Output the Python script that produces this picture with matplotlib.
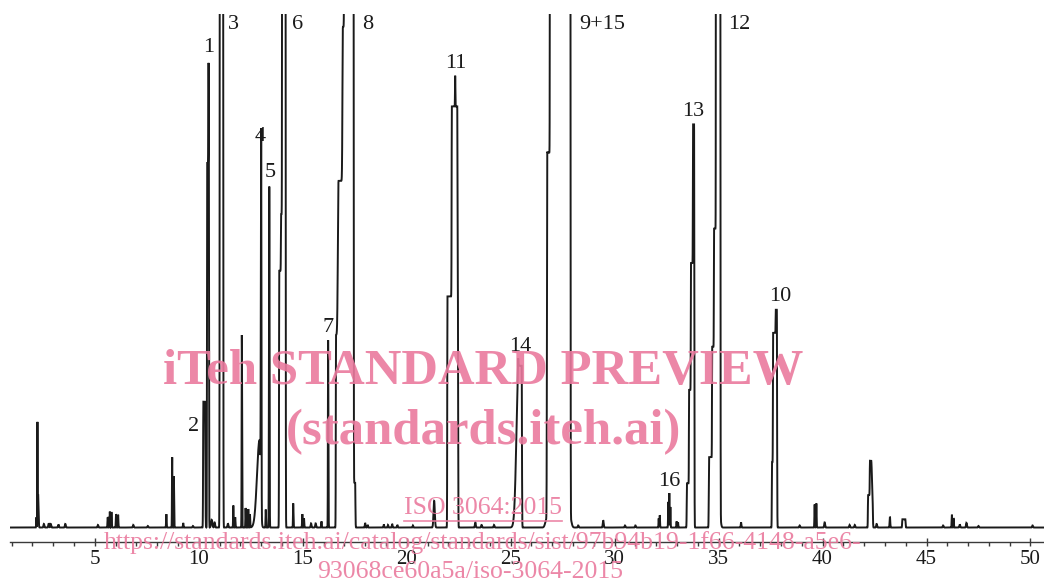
import numpy as np
import matplotlib
matplotlib.use("Agg")
import matplotlib.pyplot as plt
from matplotlib.lines import Line2D

# ---------------- data ----------------
# x axis (retention time, min)
x_major_ticks = [5, 10, 15, 20, 25, 30, 35, 40, 45, 50]
x_minor_ticks = list(range(1, 51))

# Peak tables: (apex start, apex end, height [% full scale], sigma left, sigma right), times in min
peaks_early = [
    (2.19, 2.19, 2.0, 0.010, 0.010),
    (2.24, 2.24, 20.6, 0.007, 0.007),
    (2.27, 2.27, 6.5, 0.005, 0.020),
    (2.55, 2.55, 0.7, 0.020, 0.020),
    (2.78, 2.78, 0.8, 0.020, 0.020),
    (2.88, 2.88, 0.7, 0.020, 0.020),
    (3.25, 3.25, 0.6, 0.020, 0.020),
    (3.58, 3.58, 0.7, 0.020, 0.020),
    (5.15, 5.15, 0.5, 0.020, 0.020),
    (5.62, 5.62, 2.0, 0.012, 0.012),
    (5.72, 5.72, 3.1, 0.012, 0.012),
    (5.80, 5.80, 3.0, 0.012, 0.012),
    (6.02, 6.02, 2.6, 0.012, 0.012),
    (6.12, 6.12, 2.5, 0.012, 0.012),
    (6.85, 6.85, 0.5, 0.020, 0.020),
    (7.55, 7.55, 0.3, 0.020, 0.020),
    (8.44, 8.44, 2.6, 0.012, 0.012),
    (8.72, 8.72, 13.7, 0.010, 0.010),
    (8.80, 8.80, 10.0, 0.010, 0.012),
    (9.25, 9.25, 0.9, 0.012, 0.012),
    (9.72, 9.72, 0.3, 0.020, 0.020),
]

peaks_mid = [
    (10.22, 10.30, 24.5, 0.012, 0.015),   # 2
    (10.40, 10.48, 71.0, 0.008, 0.010),   # 1
    (10.47, 10.47, 19.5, 0.008, 0.010),
    (10.62, 10.62, 1.5, 0.030, 0.030),
    (10.76, 10.76, 1.0, 0.020, 0.020),
    (11.02, 11.16, 200.0, 0.012, 0.012),  # 3
    (11.40, 11.40, 0.8, 0.020, 0.020),
    (11.66, 11.66, 4.3, 0.010, 0.012),
    (11.75, 11.75, 2.0, 0.010, 0.012),
    (12.07, 12.07, 37.5, 0.010, 0.012),
    (12.25, 12.25, 3.8, 0.010, 0.012),
    (12.38, 12.38, 3.6, 0.010, 0.012),
    (12.46, 12.46, 2.6, 0.010, 0.012),
    (12.92, 12.92, 17.0, 0.120, 0.050),
    (13.00, 13.00, 73.0, 0.015, 0.012),   # 4
    (13.22, 13.22, 3.5, 0.010, 0.012),
    (13.39, 13.39, 66.4, 0.014, 0.012),   # 5
    (13.87, 14.16, 50.0, 0.010, 0.012),   # 6
    (13.96, 14.16, 11.0, 0.010, 0.012),
    (14.02, 14.16, 200.0, 0.010, 0.012),
    (14.54, 14.54, 4.7, 0.010, 0.014),
    (14.98, 14.98, 2.6, 0.012, 0.012),
    (15.06, 15.06, 1.8, 0.012, 0.012),
    (15.40, 15.40, 0.8, 0.020, 0.020),
    (15.62, 15.62, 0.8, 0.020, 0.020),
    (15.90, 15.90, 1.2, 0.012, 0.012),
    (16.22, 16.22, 36.5, 0.010, 0.012),   # 7
    (16.60, 17.43, 37.5, 0.010, 0.012),   # 8
    (16.72, 17.43, 30.0, 0.030, 0.012),
    (16.93, 17.43, 30.0, 0.020, 0.012),
    (17.02, 17.43, 200.0, 0.015, 0.012),
    (17.43, 17.52, 8.7, 0.010, 0.012),
]

peaks_late = [
    (18.00, 18.00, 0.9, 0.015, 0.015),
    (18.12, 18.12, 0.5, 0.015, 0.015),
    (18.90, 18.90, 0.6, 0.015, 0.015),
    (19.10, 19.10, 0.5, 0.015, 0.015),
    (19.30, 19.30, 0.7, 0.015, 0.015),
    (19.55, 19.55, 0.5, 0.015, 0.015),
    (20.30, 20.30, 0.4, 0.015, 0.015),
    (21.32, 21.32, 5.2, 0.030, 0.030),
    (21.96, 22.46, 45.0, 0.010, 0.012),   # 11
    (22.17, 22.43, 37.0, 0.010, 0.012),
    (22.33, 22.33, 6.0, 0.008, 0.008),
    (23.30, 23.30, 1.0, 0.020, 0.020),
    (23.60, 23.60, 0.5, 0.020, 0.020),
    (24.20, 24.20, 0.5, 0.020, 0.020),
    (25.38, 25.53, 31.5, 0.100, 0.012),   # 14
    (25.36, 25.36, 2.0, 0.008, 0.008),
    (26.72, 26.72, 1.5, 0.060, 0.020),
    (26.76, 27.86, 73.0, 0.015, 0.012),   # 9+15
    (26.90, 27.86, 200.0, 0.010, 0.012),
    (27.86, 27.86, 2.0, 0.010, 0.060),
    (28.25, 28.25, 0.4, 0.020, 0.020),
    (29.45, 29.45, 1.4, 0.020, 0.020),
    (30.50, 30.50, 0.4, 0.020, 0.020),
    (31.00, 31.00, 0.4, 0.020, 0.020),
]

peaks_tail = [
    (32.12, 32.12, 1.8, 0.010, 0.010),
    (32.17, 32.17, 2.4, 0.010, 0.010),
    (32.58, 32.58, 5.0, 0.010, 0.010),    # 16
    (32.63, 32.63, 6.7, 0.010, 0.010),
    (32.68, 32.68, 4.0, 0.010, 0.010),
    (32.98, 32.98, 1.2, 0.010, 0.010),
    (33.05, 33.05, 1.0, 0.010, 0.010),
    (33.48, 33.82, 8.6, 0.012, 0.012),    # 13
    (33.58, 33.82, 18.2, 0.008, 0.012),
    (33.67, 33.82, 24.7, 0.008, 0.012),
    (33.77, 33.82, 27.0, 0.008, 0.012),
    (34.54, 35.07, 13.7, 0.012, 0.012),   # 12
    (34.69, 35.07, 21.5, 0.008, 0.012),
    (34.78, 35.07, 23.0, 0.008, 0.012),
    (34.88, 35.07, 200.0, 0.008, 0.012),
    (35.07, 35.07, 2.0, 0.010, 0.040),
    (36.08, 36.08, 1.0, 0.015, 0.015),
    (37.57, 37.80, 12.7, 0.010, 0.012),   # 10
    (37.62, 37.80, 25.2, 0.008, 0.012),
    (37.75, 37.80, 4.5, 0.008, 0.012),
    (38.90, 38.90, 0.4, 0.020, 0.020),
    (39.62, 39.62, 4.5, 0.012, 0.012),
    (39.70, 39.70, 4.7, 0.012, 0.012),
    (40.10, 40.10, 1.0, 0.020, 0.020),
    (41.30, 41.30, 0.5, 0.020, 0.020),
    (41.55, 41.55, 0.5, 0.020, 0.020),
    (42.19, 42.40, 6.3, 0.010, 0.015),
    (42.28, 42.34, 6.7, 0.010, 0.030),
    (42.60, 42.60, 0.7, 0.020, 0.020),
    (43.24, 43.24, 2.1, 0.015, 0.015),
    (43.84, 43.98, 1.6, 0.012, 0.012),
    (45.80, 45.80, 0.4, 0.020, 0.020),
    (46.22, 46.22, 2.5, 0.012, 0.012),
    (46.30, 46.30, 1.8, 0.012, 0.012),
    (46.60, 46.60, 0.6, 0.020, 0.020),
    (46.92, 46.92, 0.9, 0.020, 0.020),
    (47.50, 47.50, 0.3, 0.020, 0.020),
    (50.10, 50.10, 0.4, 0.020, 0.020),
]

# peak labels: text, retention time, label height (% FS)
label_text = ["1", "2", "3", "4", "5", "6", "7", "8", "11", "14", "9+15", "13", "12", "10", "16"]
label_rt = [10.46, 9.74, 11.66, 12.96, 13.44, 14.74, 16.23, 18.10, 22.38, 25.46, 29.40, 33.77, 35.98, 37.96, 32.62]
label_y = [93.4, 19.6, 98.0, 76.2, 69.2, 98.0, 38.9, 98.0, 90.3, 35.3, 98.0, 81.1, 98.0, 44.9, 8.9]

# ---------------- signal ----------------
t = np.linspace(0.92, 50.65, 40000)
signal = np.zeros_like(t)
for a, b, h, sl, sr in peaks_early + peaks_mid + peaks_late + peaks_tail:
    comp = np.ones_like(t)
    left = t < a
    right = t > b
    comp[left] = np.exp(-0.5 * ((t[left] - a) / sl) ** 2)
    comp[right] = np.exp(-0.5 * ((t[right] - b) / sr) ** 2)
    signal += h * comp

# ---------------- figure ----------------
W, H = 1044, 586
fig = plt.figure(figsize=(W / 100, H / 100), dpi=100)
ax = fig.add_axes([10 / W, 44 / H, 1034 / W, 528 / H])
ax.plot(t, signal, color="#1a1a1a", lw=1.4, solid_joinstyle="miter")
ax.set_xlim(0.92, 50.65)
ax.set_ylim(-2.82, 100)

for s in ["left", "top", "right"]:
    ax.spines[s].set_visible(False)
ax.spines["bottom"].set_color("#3a3a3a")
ax.spines["bottom"].set_linewidth(1.0)
ax.set_yticks([])
ax.set_xticks(x_major_ticks)
ax.set_xticks(x_minor_ticks, minor=True)
ax.tick_params(axis="x", which="major", direction="inout", length=6, width=1.0,
               color="#3a3a3a", pad=3, labelsize=15)
ax.tick_params(axis="x", which="minor", direction="out", length=3, width=1.0, color="#3a3a3a")
for lab in ax.get_xticklabels():
    lab.set_fontfamily("Liberation Serif")
    lab.set_color("#1a1a1a")

for txt, rt, yy in zip(label_text, label_rt, label_y):
    ax.text(rt, yy, txt, ha="center", va="center", fontsize=16,
            family="Liberation Serif", color="#1a1a1a", clip_on=False)

# ---------------- watermark ----------------
pink = "#ea7a9e"
def ftxt(x, y, s, size, weight="normal"):
    return fig.text(x / W, 1 - y / H, s, ha="center", va="center", fontsize=size,
                    family="Liberation Serif", fontweight=weight, color=pink, alpha=0.9,
                    zorder=10)

ftxt(483, 372, "iTeh STANDARD PREVIEW", 36.5, "bold")
ftxt(483, 432, "(standards.iteh.ai)", 36.5, "bold")
iso = ftxt(483, 508, "ISO 3064:2015", 18.5)
ftxt(483, 543, "https://standards.iteh.ai/catalog/standards/sist/97b94b19-1f66-4148-a5e6-", 18.5)
ftxt(470, 572, "93068ce60a5a/iso-3064-2015", 18.5)

fig.canvas.draw()
bb = iso.get_window_extent()
uy = (H - 521) / H
fig.add_artist(Line2D([bb.x0 / W, bb.x1 / W], [uy, uy], color=pink, alpha=0.9, lw=1.2,
                      transform=fig.transFigure, zorder=10))

fig.savefig("out.png", dpi=100)
